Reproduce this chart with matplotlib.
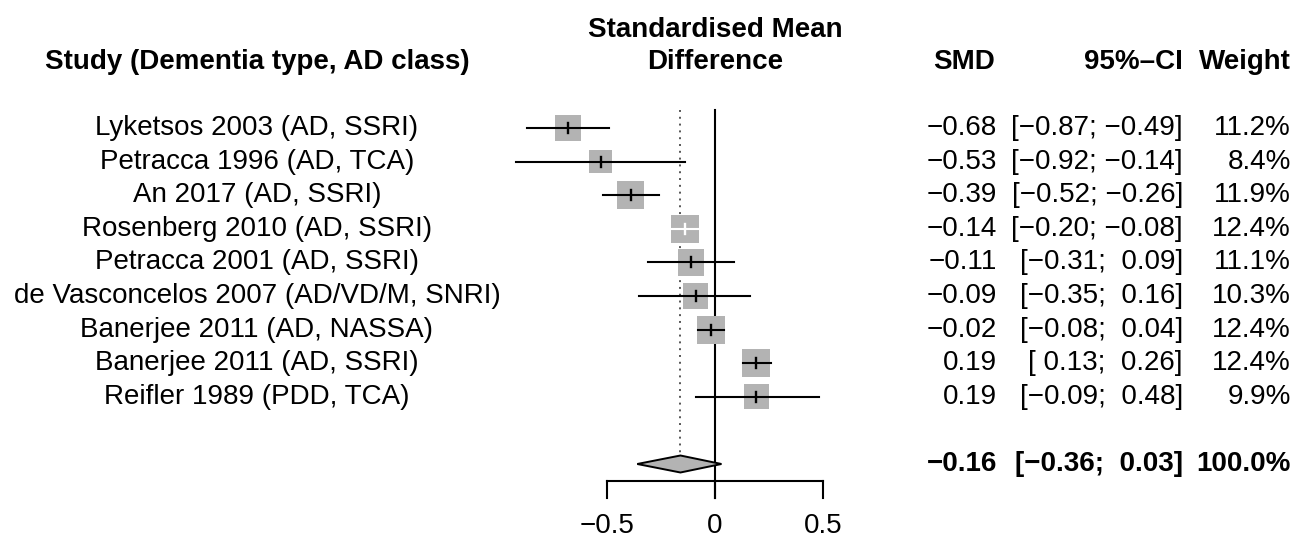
import matplotlib
matplotlib.use("Agg")
import matplotlib.pyplot as plt
from matplotlib.patches import Rectangle, Polygon
import matplotlib.transforms as mtransforms
import numpy as np

plt.rcParams['font.family'] = ['Liberation Sans', 'DejaVu Sans']

# ---------------- data ----------------
studies = ["Lyketsos 2003 (AD, SSRI)", "Petracca 1996 (AD, TCA)", "An 2017 (AD, SSRI)",
           "Rosenberg 2010 (AD, SSRI)", "Petracca 2001 (AD, SSRI)",
           "de Vasconcelos 2007 (AD/VD/M, SNRI)", "Banerjee 2011 (AD, NASSA)",
           "Banerjee 2011 (AD, SSRI)", "Reifler 1989 (PDD, TCA)"]
smd = [-0.68, -0.53, -0.39, -0.14, -0.11, -0.09, -0.02, 0.19, 0.19]
ci_lower = [-0.87, -0.92, -0.52, -0.20, -0.31, -0.35, -0.08, 0.13, -0.09]
ci_upper = [-0.49, -0.14, -0.26, -0.08, 0.09, 0.16, 0.04, 0.26, 0.48]
weight = [11.2, 8.4, 11.9, 12.4, 11.1, 10.3, 12.4, 12.4, 9.9]
pooled_smd = -0.16
pooled_lower = -0.36
pooled_upper = 0.03
pooled_weight = 100.0
white_ci_studies = ["Rosenberg 2010 (AD, SSRI)"]
xticks = [-0.5, 0, 0.5]
xtick_labels = ["\u22120.5", "0", "0.5"]
headers = ["Study (Dementia type, AD class)", "Standardised Mean\nDifference", "SMD", "95%\u2013CI", "Weight"]

# ---------------- layout ----------------
W, H = 1295, 543
fig = plt.figure(figsize=(W / 100, H / 100), dpi=100)
ax = fig.add_axes([0, 0, 1, 1])
ax.set_axis_off()

x0_px, px_per_unit = 715, 216.0
row1_px, row_px = 128.0, 33.6
ax.set_xlim((0 - x0_px) / px_per_unit, (W - x0_px) / px_per_unit)
ax.set_ylim(1 + (H - row1_px) / row_px, 1 - row1_px / row_px)

def prow(px):
    return 1 + (px - row1_px) / row_px

def fmt(v):
    s = f"{abs(v):.2f}"
    return ("\u2212" + s) if v < 0 else s

def fmt_ci(lo, hi):
    a = fmt(lo)
    b = fmt(hi)
    a = a if lo < 0 else " " + a
    b = b if hi < 0 else " " + b
    return f"[{a}; {b}]"

gray = "#b3b3b3"
fs = 20
blend = mtransforms.blended_transform_factory(fig.transFigure, ax.transData)

n = len(studies)
rows = np.arange(1, n + 1)
sum_row = n + 2
axis_row = prow(481)
tick_len = 17 / row_px
top_row = prow(110)

# reference lines
ax.plot([0, 0], [top_row, axis_row + tick_len], color="black", lw=1.5, zorder=1)
ax.plot([pooled_smd, pooled_smd], [top_row, sum_row - 8.5 / row_px], color="#555555",
        lw=1.4, ls=(0, (1, 2.5)), zorder=1)

for i, r in enumerate(rows):
    side = 28 * np.sqrt(weight[i] / max(weight))
    wd, ht = side / px_per_unit, side / row_px
    ax.add_patch(Rectangle((smd[i] - wd / 2, r - ht / 2), wd, ht, facecolor=gray,
                           edgecolor="none", zorder=2))
    c = "white" if studies[i] in white_ci_studies else "black"
    ax.plot([ci_lower[i], ci_upper[i]], [r, r], color=c, lw=1.5, zorder=3)
    ax.plot([smd[i], smd[i]], [r - 5 / row_px, r + 5 / row_px], color=c, lw=1.7, zorder=3)
    ax.text(257 / W, r, studies[i], transform=blend, ha="center", va="center", fontsize=fs)
    ax.text(997 / W, r, fmt(smd[i]), transform=blend, ha="right", va="center", fontsize=fs)
    ax.text(1183 / W, r, fmt_ci(ci_lower[i], ci_upper[i]), transform=blend, ha="right",
            va="center", fontsize=fs)
    ax.text(1291 / W, r, f"{weight[i]:.1f}%", transform=blend, ha="right", va="center", fontsize=fs)

# pooled diamond
dh = 8.5 / row_px
ax.add_patch(Polygon([[pooled_lower, sum_row], [pooled_smd, sum_row - dh],
                      [pooled_upper, sum_row], [pooled_smd, sum_row + dh]],
                     closed=True, facecolor=gray, edgecolor="black", lw=1.4, zorder=4))
ax.text(997 / W, sum_row, fmt(pooled_smd), transform=blend, ha="right", va="center",
        fontsize=fs, fontweight="bold")
ax.text(1183 / W, sum_row, fmt_ci(pooled_lower, pooled_upper), transform=blend, ha="right",
        va="center", fontsize=fs, fontweight="bold")
ax.text(1291 / W, sum_row, f"{pooled_weight:.1f}%", transform=blend, ha="right", va="center",
        fontsize=fs, fontweight="bold")

# x axis
ax.plot([xticks[0], xticks[-1]], [axis_row, axis_row], color="black", lw=1.5)
for t, lab in zip(xticks, xtick_labels):
    ax.plot([t, t], [axis_row, axis_row + tick_len], color="black", lw=1.5)
    ax.text(t, prow(526), lab, ha="center", va="center", fontsize=fs)

# headers
hdr_row = prow(62)
ax.text(257 / W, hdr_row, headers[0], transform=blend, ha="center", va="center",
        fontsize=fs, fontweight="bold")
title_lines = headers[1].split("\n")
xc = np.mean([xticks[0], xticks[-1]])
ax.text(xc, prow(30), title_lines[0], ha="center", va="center", fontsize=fs, fontweight="bold")
ax.text(xc, prow(62), title_lines[1], ha="center", va="center", fontsize=fs, fontweight="bold")
ax.text(995 / W, hdr_row, headers[2], transform=blend, ha="right", va="center",
        fontsize=fs, fontweight="bold")
ax.text(1183 / W, hdr_row, headers[3], transform=blend, ha="right", va="center",
        fontsize=fs, fontweight="bold")
ax.text(1291 / W, hdr_row, headers[4], transform=blend, ha="right", va="center",
        fontsize=fs, fontweight="bold")

fig.savefig("out.png", dpi=100, facecolor="white")
